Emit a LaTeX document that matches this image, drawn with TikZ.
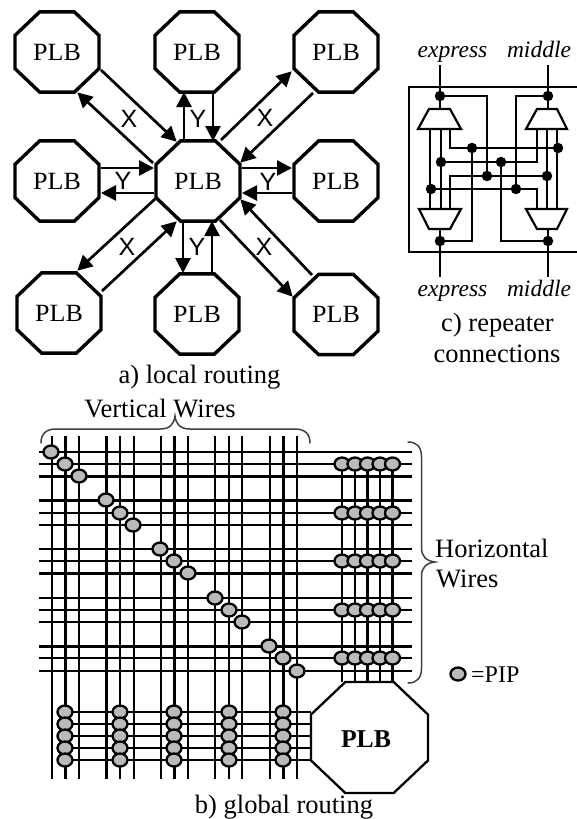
\documentclass[tikz,border=0pt]{standalone}
\usepackage{fontspec}
\setmainfont{Liberation Serif}
\newfontfamily\xyfont{Liberation Sans}
\usetikzlibrary{arrows.meta,shapes.geometric,calc}
\tikzset{
  octo/.style={regular polygon,regular polygon sides=8,draw,fill=white,line width=3.4pt,minimum size=91pt,inner sep=0pt,outer sep=0pt,yscale=.953,transform shape,font=\fontsize{26}{26}\selectfont},
  bigocto/.style={regular polygon,regular polygon sides=8,draw,fill=white,line width=2.3pt,minimum size=126.6pt,inner sep=0pt,outer sep=0pt,yscale=.948,transform shape},
  link/.style={line width=2.7pt,-{Triangle[length=15pt,width=15pt]},shorten >=-1pt},
  lbl/.style={font=\xyfont\fontsize{25}{25}\selectfont,inner sep=0pt},
  captxt/.style={font=\fontsize{26.5}{26.5}\selectfont,inner sep=0pt,anchor=base},
  ital/.style={font=\fontsize{23.5}{23.5}\selectfont\itshape,inner sep=0pt,anchor=base},
  net/.style={line width=2.1pt},
  netdot/.style={circle,fill=black,inner sep=0pt,minimum size=10.5pt},
  mux/.style={line width=2.2pt,fill=white,line join=miter},
  wire/.style={line width=2.3pt},
  pip/.style={ellipse,draw,fill=black!27,line width=2.3pt,minimum width=15pt,minimum height=13pt,inner sep=0pt},
  brace/.style={line width=1.5pt,draw=black!75,line cap=round},
}
\begin{document}
\begin{tikzpicture}[x=1pt,y=-1pt]
\useasboundingbox (0,0) rectangle (577,819);
% ---------- a) local routing
\node[octo] (tl) at (57,52) {PLB};
\node[octo] (tc) at (197,52) {PLB};
\node[octo] (tr) at (336,52) {PLB};
\node[octo] (ml) at (57,181) {PLB};
\node[octo] (mc) at (198,181) {PLB};
\node[octo] (mr) at (336,181) {PLB};
\node[octo] (bl) at (59,313) {PLB};
\node[octo] (bc) at (197,314) {PLB};
\node[octo] (br) at (336,314.5) {PLB};
\foreach \n/\ax/\ay/\bx/\by in {
  p1/101/70/176/141, p2/153/163/78/93,
  p3/184/140/184/93, p4/213/93/213/140,
  p5/221/140/291/72, p6/313/93/241/162,
  p7/101/168/153/168, p8/154/193/102/193,
  p9/242/168/291/168, p10/292/193/243/193,
  p11/155/199/78/270, p12/102/291/176/222,
  p13/183/222/183/272, p14/212/272/212/222,
  p15/220/220/292/296, p16/312/275/241/200}
{
  \coordinate (\n a) at (\ax,\ay);
  \coordinate (\n b) at (\bx,\by);
  \draw[link] (\n a) -- (\n b);
}
\node[lbl] (x1) at (129,119) {X};
\node[lbl] (y1) at (198,119) {Y};
\node[lbl] (x2) at (265,118) {X};
\node[lbl] (y2) at (123,181) {Y};
\node[lbl] (y3) at (268,182) {Y};
\node[lbl] (x3) at (127,247) {X};
\node[lbl] (y4) at (197,247) {Y};
\node[lbl] (x4) at (264,247) {X};
\node[captxt] (capa) at (199.5,383) {a) local routing};
% ---------- c) repeater connections
\node[ital] (et) at (452.5,57) {express};
\node[ital] (mt) at (539,57) {middle};
\node[ital] (eb) at (452.5,296) {express};
\node[ital] (mb) at (539,296) {middle};
\node[captxt] (capc1) at (497.5,331) {c) repeater};
\node[captxt] (capc2) at (497,362) {connections};
\coordinate (bxa) at (577,87);
\coordinate (bxb) at (409,87);
\coordinate (bxc) at (409,252);
\coordinate (bxd) at (577,252);
\draw[net] (bxa) -- (bxb) -- (bxc) -- (bxd);
% junctions
\foreach \n/\x/\y in {
  d1/440/96, d2/548/96, d3/472/148, d4/558/148,
  d5/441/162, d6/501/162, d7/487/176, d8/547/176,
  d9/431/189, d10/516/189, d11/440/241, d12/548/241}
{ \node[netdot] (\n) at (\x,\y) {}; }
% pins
\coordinate (pa) at (440,65); \coordinate (pb) at (440,109);
\coordinate (pc) at (548,65); \coordinate (pd) at (548,109);
\coordinate (pe) at (440,229); \coordinate (pf) at (440,277);
\coordinate (pg) at (548,229); \coordinate (ph) at (548,277);
\draw[net] (pa) -- (pb); \draw[net] (pc) -- (pd);
\draw[net] (pe) -- (pf); \draw[net] (pg) -- (ph);
% mux-to-mux verticals
\foreach \x in {430,441,547,557}{
  \coordinate (u\x) at (\x,129); \coordinate (v\x) at (\x,209);
  \draw[net] (u\x) -- (v\x);
}
\coordinate (m450t) at (450,129);
\coordinate (m537t) at (537,129);
\coordinate (m450b) at (450,209);
\coordinate (m537b) at (537,209);
\draw[net] (m450t) |- (d4);
\draw[net] (d5) -| (m537t);
\draw[net] (m450b) |- (d8);
\draw[net] (d9) -| (m537b);
\draw[net] (d3) |- (d11);
\draw[net] (d6) |- (d12);
\draw[net] (d7) |- (d1);
\draw[net] (d10) |- (d2);
\draw[mux] (418,129) -- (429,109) -- (450,109) -- (461,129) -- cycle;
\draw[mux] (526,129) -- (537,109) -- (557,109) -- (567,129) -- cycle;
\draw[mux] (419,209) -- (429,229) -- (450,229) -- (461,209) -- cycle;
\draw[mux] (526,209) -- (537,229) -- (557,229) -- (567,209) -- cycle;
% ---------- b) global routing
\foreach \n/\x in {a/52,b/65.5,c/79,d/106.5,e/120,f/134,g/161,h/174.5,i/188,j/215,k/229,l/242,m/270,n/283.5,o/297}{
  \coordinate (vt\n) at (\x,436);
  \coordinate (vb\n) at (\x,779);
  \draw[wire] (vt\n) -- (vb\n);
}
\foreach \n/\y in {a/452,b/464,c/476.5,d/500.5,e/513,f/525,g/549,h/561,i/573.5,j/598,k/610,l/622,m/646.5,n/658,o/671}{
  \coordinate (hl\n) at (39,\y);
  \coordinate (hr\n) at (412,\y);
  \draw[wire] (hl\n) -- (hr\n);
}
\node[bigocto] (plb) at (369.5,737.5) {};
\node[font=\fontsize{25.7}{25.7}\selectfont\bfseries,inner sep=0pt,anchor=base] (plbt) at (366,747) {PLB};
% PLB stubs
\foreach \x [count=\i] in {342,355,367.5,380,392.5}{
  \coordinate (s\i t) at (\x,464);
  \coordinate (s\i b) at (\x,682);
  \draw[wire] (s\i t) -- (s\i b);
}
\foreach \y [count=\i] in {712,724,736,748,760}{
  \coordinate (w\i l) at (65,\y);
  \coordinate (w\i r) at (311,\y);
  \draw[wire] (w\i l) -- (w\i r);
}
% diagonal PIPs
\foreach \x/\y [count=\i] in {51/452,65/464,79/476,106/500,120/513,133/525,160/549,174/561,188/573,215/598,229/610,242/622,269/646,283/658,297/671}{
  \node[pip] (dg\i) at (\x,\y) {};
}
% right PIPs
\foreach \y in {464,513,561,610,658}{
  \foreach \x in {342,355,367.5,380,392.5}{
    \node[pip] (rp\x-\y) at (\x,\y) {};
  }
}
% bottom PIPs
\foreach \x in {65,120,174,229,283}{
  \foreach \y in {712,724,736,748,760}{
    \node[pip] (bp\x-\y) at (\x,\y) {};
  }
}
% braces
\coordinate (vb1) at (41,443);
\coordinate (vb2) at (175,416);
\coordinate (vb3) at (310,443);
\draw[brace] (vb1) .. controls (41,434) and (46,429) .. (56,429) -- (160,429) .. controls (170,429) and (174,424) .. (vb2) .. controls (176,424) and (180,429) .. (190,429) -- (295,429) .. controls (305,429) and (310,434) .. (vb3);
\coordinate (hb1) at (408,442);
\coordinate (hb2) at (435,562);
\coordinate (hb3) at (408,683);
\draw[brace] (hb1) .. controls (417,442) and (421.5,447) .. (421.5,457) -- (421.5,548) .. controls (421.5,556) and (426,561) .. (hb2) .. controls (426,563) and (421.5,568) .. (421.5,576) -- (421.5,668) .. controls (421.5,678) and (417,683) .. (hb3);
\node[captxt] (vw) at (160,417) {Vertical Wires};
\node[captxt,anchor=base west] (hw1) at (435,557) {Horizontal};
\node[captxt,anchor=base west] (hw2) at (436,587) {Wires};
\node[pip] (key) at (458,674) {};
\node[font=\fontsize{24}{24}\selectfont,inner sep=0pt,anchor=base west] (keyt) at (471,682) {=PIP};
\node[captxt] (capb) at (284,813) {b) global routing};
\end{tikzpicture}
\end{document}
